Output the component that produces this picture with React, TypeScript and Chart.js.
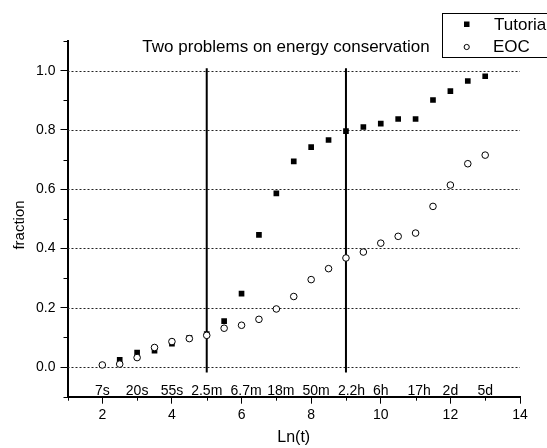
import React, { useEffect, useRef } from "react";
import { Chart, registerables } from "chart.js";

Chart.register(...registerables);

const FONT = "'Liberation Sans', Arial, sans-serif";

const chartTitle = "Two problems on energy conservation";
const xAxisTitle = "Ln(t)";
const yAxisTitle = "fraction";
const seriesNames = ["Tutorial", "EOC"];

const tutorialX = [2.5, 3, 3.5, 4, 4.5, 5, 5.5, 6, 6.5, 7, 7.5, 8, 8.5, 9, 9.5, 10, 10.5, 11, 11.5, 12, 12.5, 13];
const tutorialY = [0.024, 0.049, 0.055, 0.079, 0.099, 0.111, 0.155, 0.248, 0.446, 0.586, 0.694, 0.742, 0.766, 0.796, 0.81, 0.821, 0.837, 0.837, 0.901, 0.931, 0.965, 0.981];

const eocX = [2, 2.5, 3, 3.5, 4, 4.5, 5, 5.5, 6, 6.5, 7, 7.5, 8, 8.5, 9, 9.5, 10, 10.5, 11, 11.5, 12, 12.5, 13];
const eocY = [0.007, 0.01, 0.032, 0.066, 0.086, 0.096, 0.107, 0.131, 0.141, 0.161, 0.196, 0.238, 0.295, 0.332, 0.368, 0.388, 0.418, 0.441, 0.452, 0.542, 0.614, 0.686, 0.715];

const verticalLineX = [5, 9];
const verticalLineYRange = [-0.018, 1.008];

const timeLabels = ["7s", "20s", "55s", "2.5m", "6.7m", "18m", "50m", "2.2h", "6h", "17h", "2d", "5d"];
const timeLabelX = [2, 3, 4, 5, 6.13, 7.13, 8.14, 9.16, 10, 11.1, 12, 13];
const timeLabelY = -0.08;

const gridValues = [0, 0.2, 0.4, 0.6, 0.8, 1.0];

const X_MIN = 1, X_MAX = 14, Y_MIN = -0.1, Y_MAX = 1.1;

const isMajorY = (v: number) => Math.round(v * 10) % 2 === 0;
const isMajorX = (v: number) => Math.round(v) % 2 === 0;

const overlay = {
  id: "overlay",
  beforeDatasetsDraw(chart: any) {
    const { ctx, chartArea, scales } = chart;
    const y = scales.y;
    ctx.save();
    ctx.strokeStyle = "#222";
    ctx.lineWidth = 1;
    ctx.setLineDash([2, 2]);
    gridValues.forEach((v) => {
      const py = Math.round(y.getPixelForValue(v)) + 0.5;
      ctx.beginPath();
      ctx.moveTo(chartArea.left, py);
      ctx.lineTo(chartArea.right, py);
      ctx.stroke();
    });
    ctx.restore();
  },
  afterDraw(chart: any) {
    const { ctx, chartArea, scales } = chart;
    const x = scales.x;
    const y = scales.y;
    ctx.save();
    // minor ticks
    ctx.strokeStyle = "#000";
    ctx.lineWidth = 1;
    ctx.setLineDash([]);
    y.ticks.forEach((t: any) => {
      if (!isMajorY(t.value)) {
        const py = Math.round(y.getPixelForValue(t.value)) + 0.5;
        ctx.beginPath();
        ctx.moveTo(chartArea.left - 4, py);
        ctx.lineTo(chartArea.left, py);
        ctx.stroke();
      }
    });
    x.ticks.forEach((t: any) => {
      if (!isMajorX(t.value)) {
        const px = Math.round(x.getPixelForValue(t.value)) + 0.5;
        ctx.beginPath();
        ctx.moveTo(px, chartArea.bottom);
        ctx.lineTo(px, chartArea.bottom + 4);
        ctx.stroke();
      }
    });

    ctx.fillStyle = "#000";
    // time labels
    ctx.font = `14px ${FONT}`;
    ctx.textAlign = "center";
    ctx.textBaseline = "middle";
    timeLabels.forEach((lab, i) => {
      ctx.fillText(lab, x.getPixelForValue(timeLabelX[i]), y.getPixelForValue(timeLabelY));
    });

    // title
    ctx.font = `17px ${FONT}`;
    ctx.textAlign = "center";
    ctx.fillText(chartTitle, 286, 47);

    // axis titles
    ctx.font = `16px ${FONT}`;
    ctx.fillText(xAxisTitle, (chartArea.left + chartArea.right) / 2, 438);
    ctx.save();
    ctx.translate(20, 225);
    ctx.rotate(-Math.PI / 2);
    ctx.font = `15px ${FONT}`;
    ctx.fillText(yAxisTitle, 0, 0);
    ctx.restore();

    // legend
    ctx.strokeStyle = "#000";
    ctx.lineWidth = 1;
    ctx.fillStyle = "#fff";
    ctx.fillRect(442.5, 13.5, 120, 44);
    ctx.strokeRect(442.5, 13.5, 120, 44);
    ctx.fillStyle = "#000";
    ctx.fillRect(464, 21.5, 5.5, 5.5);
    ctx.beginPath();
    ctx.arc(466.7, 47, 2.6, 0, Math.PI * 2);
    ctx.stroke();
    ctx.font = `17px ${FONT}`;
    ctx.textAlign = "left";
    ctx.fillText(seriesNames[0], 494, 25);
    ctx.fillText(seriesNames[1], 493, 47);
    ctx.restore();
  },
};

export default function App() {
  const ref = useRef<HTMLCanvasElement>(null);
  useEffect(() => {
    document.body.style.margin = "0";
    const canvas = ref.current!;
    const datasets: any[] = [
      {
        label: seriesNames[1],
        data: eocX.map((v, i) => ({ x: v, y: eocY[i] })),
        pointStyle: "circle",
        pointRadius: 3.3,
        pointBorderWidth: 1,
        pointBackgroundColor: "#fff",
        pointBorderColor: "#000",
        showLine: false,
        order: 0,
      },
      {
        label: seriesNames[0],
        data: tutorialX.map((v, i) => ({ x: v, y: tutorialY[i] })),
        pointStyle: "rect",
        pointRadius: 4,
        pointBorderWidth: 0,
        pointBackgroundColor: "#000",
        pointBorderColor: "#000",
        showLine: false,
        order: 1,
      },
      ...verticalLineX.map((vx) => ({
        label: "v" + vx,
        data: verticalLineYRange.map((vy) => ({ x: vx, y: vy })),
        showLine: true,
        borderColor: "#000",
        borderWidth: 2,
        pointRadius: 0,
        order: 2,
      })),
    ];
    const chart = new Chart(canvas, {
      type: "scatter",
      data: { datasets },
      options: {
        animation: false,
        responsive: false,
        devicePixelRatio: 1,
        layout: { padding: { left: 0, right: 27, top: 41, bottom: 0 } },
        plugins: { legend: { display: false }, tooltip: { enabled: false }, title: { display: false } },
        scales: {
          x: {
            type: "linear",
            min: X_MIN,
            max: X_MAX,
            afterFit: (s: any) => { s.height = 448 - 396.7; },
            ticks: {
              stepSize: 1,
              autoSkip: false,
              maxRotation: 0,
              padding: 3,
              color: "#000",
              font: { family: FONT, size: 14 },
              callback: (v: any) => (isMajorX(Number(v)) ? String(v) : ""),
            },
            grid: {
              drawOnChartArea: false,
              drawTicks: true,
              tickLength: 7,
              tickWidth: 1,
              tickColor: (c: any) => (c.tick && isMajorX(c.tick.value) ? "#000" : "rgba(0,0,0,0)"),
            },
            border: { display: true, color: "#000", width: 2 },
          },
          y: {
            type: "linear",
            min: Y_MIN,
            max: Y_MAX,
            afterFit: (s: any) => { s.width = 67.5; },
            ticks: {
              stepSize: 0.1,
              autoSkip: false,
              padding: 5,
              color: "#000",
              font: { family: FONT, size: 14 },
              callback: (v: any) => (isMajorY(Number(v)) ? Number(v).toFixed(1) : ""),
            },
            grid: {
              drawOnChartArea: false,
              drawTicks: true,
              tickLength: 7,
              tickWidth: 1,
              tickColor: (c: any) => (c.tick && isMajorY(c.tick.value) ? "#000" : "rgba(0,0,0,0)"),
            },
            border: { display: true, color: "#000", width: 2 },
          },
        },
      },
      plugins: [overlay],
    });
    return () => chart.destroy();
  }, []);
  return <canvas ref={ref} width={547} height={448} style={{ display: "block", width: 547, height: 448 }} />;
}
